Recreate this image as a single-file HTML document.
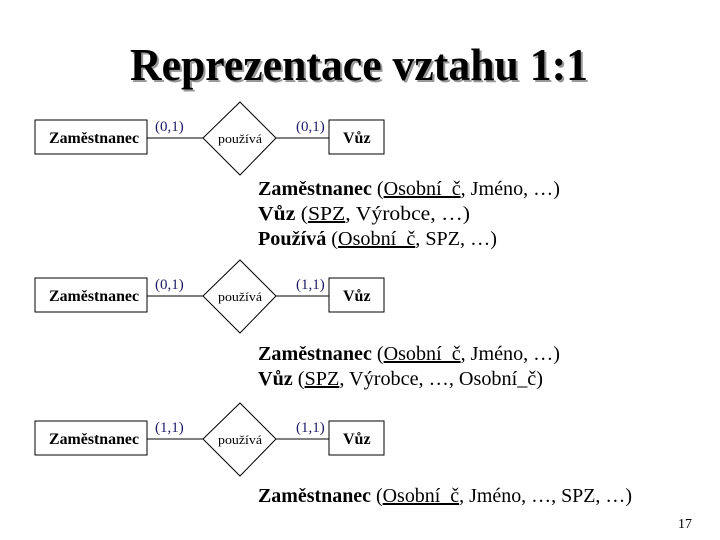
<!DOCTYPE html>
<html><head><meta charset="utf-8"><style>body{margin:0;background:#fff}svg{display:block}</style></head>
<body>
<svg width="720" height="540" xmlns="http://www.w3.org/2000/svg" font-family="Liberation Serif, serif">
<rect width="720" height="540" fill="#fff"/>
<g font-weight="bold" font-size="46">
<text x="132" y="82" fill="#999" textLength="458" lengthAdjust="spacingAndGlyphs">Reprezentace vztahu 1:1</text>
<text x="130" y="80" fill="#000" textLength="458" lengthAdjust="spacingAndGlyphs">Reprezentace vztahu 1:1</text>
</g>
<defs>
<g id="d">
<rect x="35" y="120" width="112" height="34" fill="#fff" stroke="#000"/>
<text x="49" y="143" font-size="16" font-weight="bold" textLength="90" lengthAdjust="spacingAndGlyphs">Zaměstnanec</text>
<line x1="147" y1="138" x2="203" y2="138" stroke="#000"/>
<polygon points="240,102 276,138 240,175 203,138" fill="#fff" stroke="#000"/>
<text x="218" y="143" font-size="13" textLength="44" lengthAdjust="spacingAndGlyphs">používá</text>
<line x1="276" y1="138" x2="329" y2="138" stroke="#000"/>
<rect x="329" y="120" width="55" height="34" fill="#fff" stroke="#000"/>
<text x="343" y="143" font-size="16" font-weight="bold">Vůz</text>
</g>
</defs>
<use href="#d"/>
<text x="155" y="131" font-size="15" fill="#1a1a66">(0,1)</text>
<text x="296" y="131" font-size="15" fill="#1a1a66">(0,1)</text>
<use href="#d" y="158"/>
<text x="155" y="289" font-size="15" fill="#1a1a66">(0,1)</text>
<text x="296" y="289" font-size="15" fill="#1a1a66">(1,1)</text>
<use href="#d" y="301"/>
<text x="155" y="432" font-size="15" fill="#1a1a66">(1,1)</text>
<text x="296" y="432" font-size="15" fill="#1a1a66">(1,1)</text>
<g font-size="20">
<text x="258" y="195" textLength="302" lengthAdjust="spacingAndGlyphs"><tspan font-weight="bold">Zaměstnanec</tspan> (<tspan text-decoration="underline">Osobní_č</tspan>, Jméno, …)</text>
<text x="258" y="220" textLength="212" lengthAdjust="spacingAndGlyphs"><tspan font-weight="bold">Vůz</tspan> (<tspan text-decoration="underline">SPZ</tspan>, Výrobce, …)</text>
<text x="258" y="245" textLength="239" lengthAdjust="spacingAndGlyphs"><tspan font-weight="bold">Používá</tspan> (<tspan text-decoration="underline">Osobní_č</tspan>, SPZ, …)</text>
<text x="258" y="360" textLength="302" lengthAdjust="spacingAndGlyphs"><tspan font-weight="bold">Zaměstnanec</tspan> (<tspan text-decoration="underline">Osobní_č</tspan>, Jméno, …)</text>
<text x="258" y="385" textLength="285" lengthAdjust="spacingAndGlyphs"><tspan font-weight="bold">Vůz</tspan> (<tspan text-decoration="underline">SPZ</tspan>, Výrobce, …, Osobní_č)</text>
<text x="258" y="502" textLength="374" lengthAdjust="spacingAndGlyphs"><tspan font-weight="bold">Zaměstnanec</tspan> (<tspan text-decoration="underline">Osobní_č</tspan>, Jméno, …, SPZ, …)</text>
</g>
<text x="678" y="528" font-size="14">17</text>
</svg>
</body></html>
